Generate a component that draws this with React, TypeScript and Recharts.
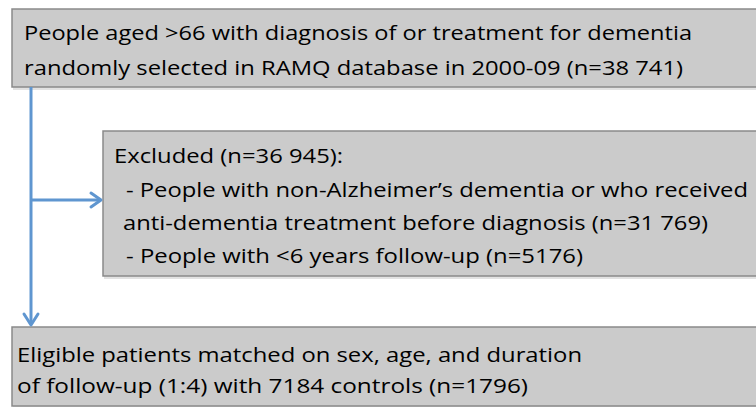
import {
  ComposedChart,
  XAxis,
  YAxis,
  Scatter,
  ReferenceArea,
  ReferenceLine,
} from "recharts";

// flowchart text, one entry per line
const topLines = [
  "People aged >66 with diagnosis of or treatment for dementia",
  "randomly selected in RAMQ database in 2000-09 (n=38 741)",
];
const excludedLines = [
  "Excluded (n=36 945):",
  "- People with non-Alzheimer’s dementia or who received",
  "anti-dementia treatment before diagnosis (n=31 769)",
  "- People with <6 years follow-up (n=5176)",
];
const eligibleLines = [
  "Eligible patients matched on sex, age, and duration",
  "of follow-up (1:4) with 7184 controls (n=1796)",
];

// layout (page pixels, y down)
const W = 756;
const H = 407;
const boxes = [
  { x1: 12, x2: 760, y1: 9, y2: 87 },
  { x1: 103, x2: 760, y1: 131, y2: 276 },
  { x1: 12, x2: 760, y1: 327, y2: 406 },
];
const textRows = [
  { x: 24, y: 40, w: 668, text: topLines[0] },
  { x: 24, y: 75, w: 659, text: topLines[1] },
  { x: 114, y: 163, w: 229, text: excludedLines[0] },
  { x: 126, y: 197, w: 622, text: excludedLines[1] },
  { x: 123, y: 230, w: 585, text: excludedLines[2] },
  { x: 126, y: 263, w: 457, text: excludedLines[3] },
  { x: 17, y: 362, w: 565, text: eligibleLines[0] },
  { x: 17, y: 393, w: 511, text: eligibleLines[1] },
];
const arrowTips = [
  { x: 101, y: 200, dir: "right" },
  { x: 31, y: 325, dir: "down" },
];

const BLUE = "#5f96d0";

const TextShape = (props: any) => {
  const { cx, cy, payload } = props;
  return (
    <text
      x={cx}
      y={cy}
      fontFamily="'Open Sans', sans-serif"
      fontSize={20}
      fill="#000"
      textLength={payload.w}
      lengthAdjust="spacingAndGlyphs"
    >
      {payload.text}
    </text>
  );
};

const ArrowHead = (props: any) => {
  const { cx, cy, payload } = props;
  const d =
    payload.dir === "right"
      ? `M${cx - 10},${cy - 7} L${cx},${cy} L${cx - 10},${cy + 7}`
      : `M${cx - 7},${cy - 11} L${cx},${cy} L${cx + 7},${cy - 11}`;
  return (
    <path
      d={d}
      fill="none"
      stroke={BLUE}
      strokeWidth={3}
      strokeLinecap="round"
      strokeLinejoin="round"
    />
  );
};

export default function App() {
  return (
    <div style={{ position: "fixed", left: 0, top: 0, background: "#fff" }}>
      <ComposedChart width={W} height={H} margin={{ top: 0, right: 0, bottom: 0, left: 0 }}>
        <XAxis type="number" dataKey="x" domain={[0, W]} hide allowDataOverflow />
        <YAxis type="number" dataKey="y" domain={[0, H]} reversed hide allowDataOverflow />

        {/* soft shadows */}
        {boxes.map((b, i) => (
          <ReferenceArea
            key={"s" + i}
            x1={b.x1 + 1}
            x2={b.x2}
            y1={b.y1 + 2}
            y2={b.y2 + 3}
            fill="#e2e2e2"
            fillOpacity={1}
            stroke="none"
            ifOverflow="visible"
          />
        ))}
        {boxes.map((b, i) => (
          <ReferenceArea
            key={"b" + i}
            x1={b.x1}
            x2={b.x2}
            y1={b.y1}
            y2={b.y2}
            fill="#cbcbcb"
            fillOpacity={1}
            stroke="#8a8a8a"
            strokeWidth={1.5}
            ifOverflow="visible"
          />
        ))}

        <ReferenceLine
          segment={[{ x: 31, y: 87 }, { x: 31, y: 324 }]}
          stroke={BLUE}
          strokeWidth={3}
          ifOverflow="visible"
        />
        <ReferenceLine
          segment={[{ x: 31, y: 200 }, { x: 100, y: 200 }]}
          stroke={BLUE}
          strokeWidth={3}
          ifOverflow="visible"
        />
        <Scatter data={arrowTips} dataKey="y" shape={ArrowHead} isAnimationActive={false} />
        <Scatter data={textRows} dataKey="y" shape={TextShape} isAnimationActive={false} />
      </ComposedChart>
    </div>
  );
}
